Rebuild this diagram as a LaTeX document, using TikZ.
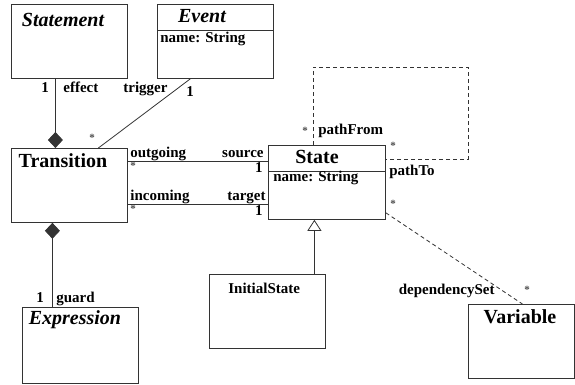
\documentclass[tikz,border=0pt]{standalone}
\usepackage{fontspec}
\setmainfont{Liberation Serif}
\usetikzlibrary{arrows.meta, positioning}

\begin{document}
\begin{tikzpicture}[
  x=1pt, y=-1pt,
  line width=0.8pt,
  cls/.style={draw=black!80, rectangle, anchor=north west, inner sep=0pt, minimum width=116pt, minimum height=74pt},
  ttl/.style={font=\fontsize{20}{20}\selectfont\bfseries, anchor=base, inner sep=0pt},
  attr/.style={font=\fontsize{15}{15}\selectfont\bfseries, anchor=base west, inner sep=0pt},
  role/.style={font=\fontsize{15}{15}\selectfont\bfseries, inner sep=0pt},
  mult/.style={font=\fontsize{15}{15}\selectfont\bfseries, inner sep=0pt},
  star/.style={font=\fontsize{11}{11}\selectfont\bfseries, text=black!70, inner sep=0pt},
  comp/.style={-{Diamond[length=16pt, width=15pt]}, draw=black!80},
  gen/.style={-{Triangle[open, length=11pt, width=14pt]}, draw=black!80},
  dep/.style={draw=black!80, dash pattern=on 4pt off 3pt},
]
  \useasboundingbox (0,0) rectangle (575,385);

  % classes
  \node[cls] (statement) at (11,4) {};
  \node[cls] (event) at (157,4) {};
  \node[cls] (transition) at (11,148) {};
  \node[cls, minimum width=117pt] (state) at (268,145) {};
  \node[cls] (initial) at (209,274) {};
  \node[cls, minimum height=76pt] (expression) at (22,307) {};
  \node[cls, minimum width=106pt] (variable) at (468,304) {};

  \draw[black!80] (event.north west |- 0,30) -- (event.north east |- 0,30);
  \draw[black!80] (state.north west |- 0,171) -- (state.north east |- 0,171);

  \node[ttl] (tStatement) at (63,27) {\itshape Statement};
  \node[ttl] (tEvent) at (202,23) {\itshape Event};
  \node[attr] (aEvent) at (160,43) {name: String};
  \node[ttl] (tTransition) at (63,167) {Transition};
  \node[ttl] (tState) at (317,163) {State};
  \node[attr] (aState) at (273,181) {name: String};
  \node[attr] (tInitial) at (228,293) {InitialState};
  \node[ttl] (tExpression) at (75,324) {\itshape Expression};
  \node[ttl] (tVariable) at (520,323) {Variable};

  % effect / guard
  \draw[comp] ([xshift=-14pt]statement.south) -- ([xshift=-14pt]transition.north);
  \node[mult, anchor=base] at (45,93) {1};
  \node[role, anchor=base west] at (63,93) {effect};
  \draw[comp] ([xshift=-28pt]expression.north) -- ([xshift=-17pt]transition.south);
  \node[mult, anchor=base] at (40,302) {1};
  \node[role, anchor=base west] at (56,302) {guard};

  % trigger
  \draw[black!80] ([xshift=-25pt]event.south) -- ([xshift=29pt]transition.north);
  \node[role, anchor=base west] at (123,93) {trigger};
  \node[mult, anchor=base] at (190,97) {1};
  \node[star] at (92,138) {*};

  % outgoing / source
  \draw[black!80] ([yshift=24pt]transition.east) coordinate (o1) -- (o1 -| state.west);
  \node[role, anchor=base west] at (130,157) {outgoing};
  \node[role, anchor=base east] at (264,157) {source};
  \node[star] at (133,166) {*};
  \node[mult, anchor=base east] at (263,172) {1};

  % incoming / target
  \draw[black!80] ([yshift=-19pt]transition.east) coordinate (i1) -- (i1 -| state.west);
  \node[role, anchor=base west] at (130,200) {incoming};
  \node[role, anchor=base east] at (266,200) {target};
  \node[star] at (133,209) {*};
  \node[mult, anchor=base east] at (263,215) {1};

  % path
  \coordinate (loop) at (468,67);
  \draw[dep] ([xshift=-13.5pt]state.north) |- (loop) |- ([yshift=23pt]state.east);
  \node[star] at (305,131) {*};
  \node[role, anchor=base west] at (318,134) {pathFrom};
  \node[star] at (393,146) {*};
  \node[role, anchor=base west] at (389,175) {pathTo};

  % dependencySet
  \draw[dep] ([yshift=7pt]state.south east) -- ([xshift=1pt]variable.north);
  \node[star] at (393,204) {*};
  \node[role, anchor=base east] at (495,294) {dependencySet};
  \node[star] at (527,290) {*};

  % generalisation
  \draw[gen] ([xshift=47pt]initial.north) -- ([xshift=47pt]initial.north |- state.south);
\end{tikzpicture}
\end{document}
